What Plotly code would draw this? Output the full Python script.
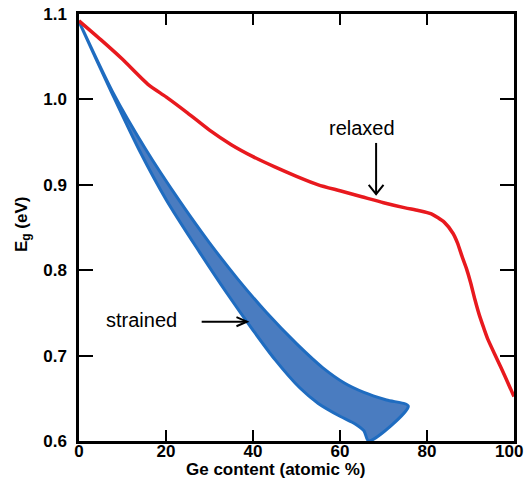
import plotly.graph_objects as go

# ---- data ----
relaxed_x = [0, 5, 10, 16, 20, 25, 30, 35, 40, 45, 50, 55, 60, 65, 70, 75, 78, 81, 84,
             86, 87, 88, 89, 90, 91, 92, 93, 94, 96, 98, 100]
relaxed_E = [1.092, 1.070, 1.047, 1.017, 1.003, 0.984, 0.964, 0.947, 0.933, 0.921, 0.910,
             0.900, 0.893, 0.886, 0.879, 0.873, 0.870, 0.866, 0.856,
             0.843, 0.832, 0.817, 0.803, 0.786, 0.766, 0.748, 0.733, 0.719, 0.697, 0.675, 0.652]

# strained band: lower edge and upper edge
strained_lower_x = [0, 7.5, 13.8, 20.1, 27.6, 34.0, 40.1, 45.1, 50.8, 55.0, 60.0, 63.5, 65.5, 66.6]
strained_lower_E = [1.091, 1.008, 0.941, 0.882, 0.822, 0.773, 0.729, 0.695, 0.662, 0.644, 0.629, 0.620, 0.612, 0.600]
strained_upper_x = [0, 7.7, 15.4, 23.0, 30.0, 36.6, 43.0, 50.0, 56.0, 61.0, 65.5, 70.7, 75.7]
strained_upper_E = [1.091, 1.009, 0.941, 0.882, 0.832, 0.789, 0.751, 0.714, 0.686, 0.668, 0.657, 0.648, 0.641]

x_ticks = [0, 20, 40, 60, 80, 100]
x_tick_labels = ["0", "20", "40", "60", "80", "100\u00a0\u00a0"]
y_ticks = [0.6, 0.7, 0.8, 0.9, 1.0, 1.1]
y_tick_labels = ["0.6", "0.7", "0.8", "0.9", "1.0", "1.1"]

band_x = strained_lower_x + strained_upper_x[::-1]
band_E = strained_lower_E + strained_upper_E[::-1]

fig = go.Figure()
fig.add_trace(go.Scatter(
    x=band_x, y=band_E, mode="lines", fill="toself",
    fillcolor="#4a7cc0", line=dict(color="#1f6cc0", width=3, shape="spline", smoothing=0.8),
    hoverinfo="skip", showlegend=False))
fig.add_trace(go.Scatter(
    x=relaxed_x, y=relaxed_E, mode="lines",
    line=dict(color="#e8191e", width=3.5, shape="spline", smoothing=0.6),
    showlegend=False))

axis_common = dict(showline=True, linecolor="black", linewidth=2.5, mirror="ticks",
                   ticks="inside", tickwidth=2, tickcolor="black", showgrid=False, zeroline=False,
                   ticklabeloverflow="allow", automargin=False,
                   tickfont=dict(family="Arial", size=17, color="black", weight="bold"))

fig.update_xaxes(range=[0, 100], tickvals=x_ticks, ticktext=x_tick_labels, ticklen=11,
                 ticklabelstandoff=-7, **axis_common)
fig.update_yaxes(range=[0.6, 1.1], tickvals=y_ticks, ticktext=y_tick_labels, ticklen=14,
                 ticklabelstandoff=6, **axis_common)

font_reg = dict(family="Arial", size=20, color="black")
font_bold = dict(family="Arial", size=17, color="black", weight="bold")

annotations = [
    dict(text="relaxed", x=65.1, y=0.967, xref="x", yref="y", showarrow=False, font=font_reg),
    dict(text="strained", x=14.4, y=0.742, xref="x", yref="y", showarrow=False, font=font_reg),
    dict(text="Ge content (atomic %)", x=0.4506, y=-0.067, xref="paper", yref="paper",
         xanchor="center", yanchor="middle", showarrow=False, font=font_bold),
    dict(text="E<sub>g</sub> (eV)", x=-0.129, y=0.508, xref="paper", yref="paper",
         xanchor="center", yanchor="middle", textangle=-90, showarrow=False, font=font_bold),
]

shapes = [
    # relaxed arrow
    dict(type="line", x0=68.3, y0=0.949, x1=68.3, y1=0.889, xref="x", yref="y",
         line=dict(color="black", width=2)),
    dict(type="path", path="M 66.6,0.900 L 68.3,0.889 L 70.0,0.900", xref="x", yref="y",
         line=dict(color="black", width=2)),
    # strained arrow
    dict(type="line", x0=28.2, y0=0.7397, x1=38.6, y1=0.7397, xref="x", yref="y",
         line=dict(color="black", width=2)),
    dict(type="path", path="M 36.2,0.745 L 38.6,0.7397 L 36.2,0.7344", xref="x", yref="y",
         line=dict(color="black", width=2)),
]

fig.update_layout(width=525, height=485, margin=dict(l=79, r=11, t=14, b=44),
                  plot_bgcolor="white", paper_bgcolor="white",
                  annotations=annotations, shapes=shapes)

fig.write_html("out.html")
